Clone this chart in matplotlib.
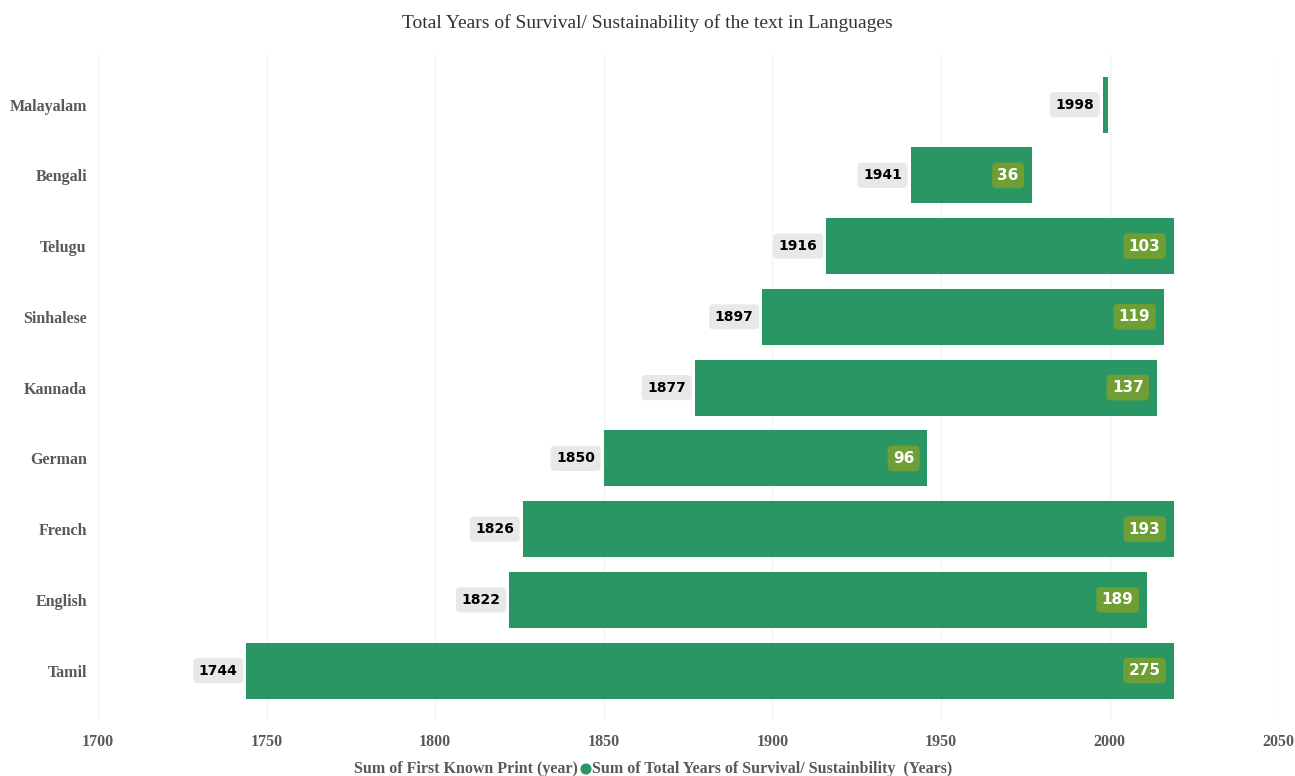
import matplotlib
matplotlib.use("Agg")
import matplotlib.pyplot as plt

languages = ["Malayalam", "Bengali", "Telugu", "Sinhalese", "Kannada", "German", "French", "English", "Tamil"]
first_print = [1998, 1941, 1916, 1897, 1877, 1850, 1826, 1822, 1744]
survival = [1.5, 36, 103, 119, 137, 96, 193, 189, 275]
show_survival = [False, True, True, True, True, True, True, True, True]
xticks = [1700, 1750, 1800, 1850, 1900, 1950, 2000, 2050]

green = "#2a9663"
olive = "#6f9e35"
gray_txt = "#595959"

fig = plt.figure(figsize=(12.95, 7.76), dpi=100)
ax = fig.add_axes([0.0757, 0.072, 0.9113, 0.857])

ypos = list(range(len(languages)))
ax.barh(ypos, first_print, height=0.79, color="none")
ax.barh(ypos, survival, left=first_print, height=0.79, color=green)

for y, fp, sv, show in zip(ypos, first_print, survival, show_survival):
    ax.text(fp - 2.6, y, f"{fp}", ha="right", va="center", fontsize=10, fontweight="bold",
            family="DejaVu Sans", color="black",
            bbox=dict(boxstyle="round,pad=0.4,rounding_size=0.3", fc="#e8e8e8", ec="none"))
    if show:
        ax.text(fp + sv - 3.9, y, f"{sv:g}", ha="right", va="center", fontsize=11, fontweight="bold",
                family="DejaVu Sans", color="white",
                bbox=dict(boxstyle="round,pad=0.35,rounding_size=0.3", fc=olive, ec="none"))

ax.set_xlim(1700, 2050)
ax.set_ylim(8.7, -0.7)
ax.set_xticks(xticks)
ax.set_xticklabels([str(t) for t in xticks], family="Liberation Serif", fontweight="bold",
                   fontsize=11.5, color=gray_txt)
ax.set_yticks(ypos)
ax.set_yticklabels(languages, family="Liberation Serif", fontweight="bold", fontsize=11.5, color=gray_txt)
ax.tick_params(length=0, axis="both")
ax.tick_params(axis="x", pad=10)
ax.tick_params(axis="y", pad=8)
ax.grid(axis="x", color="#f4f4f4", linewidth=1)
ax.set_axisbelow(True)
for s in ax.spines.values():
    s.set_visible(False)

fig.text(0.5, 0.97, "Total Years of Survival/ Sustainability of the text in Languages",
         ha="center", va="center", family="Liberation Serif", fontsize=14, color="#333333")

# legend
fig.text(0.446, 0.009, "Sum of First Known Print (year)", ha="right", va="center",
         family="Liberation Serif", fontweight="bold", fontsize=11.5, color=gray_txt)
fig.patches.append(matplotlib.patches.Ellipse((0.4525, 0.009), 0.0075, 0.0125,
                   transform=fig.transFigure, color=green))
fig.text(0.457, 0.009, "Sum of Total Years of Survival/ Sustainbility  (Years)", ha="left", va="center",
         family="Liberation Serif", fontweight="bold", fontsize=11.5, color=gray_txt)

fig.savefig("out.png", dpi=100)
